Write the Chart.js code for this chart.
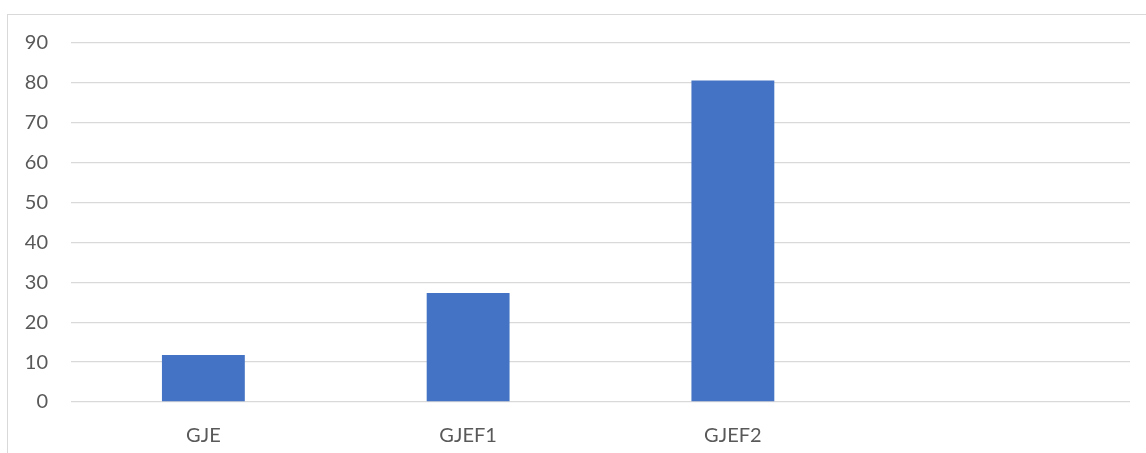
<!DOCTYPE html>
<html>
<head>
<meta charset="utf-8">
<script src="https://cdn.jsdelivr.net/npm/chart.js@4/dist/chart.umd.min.js"></script>
<style>
  html, body { margin: 0; padding: 0; background: #fff; }
  .wrap { position: relative; width: 1146px; height: 453px; }
  .frame { position: absolute; left: 7px; top: 14px; right: 0; bottom: 0;
           border-left: 1px solid #d9d9d9; border-top: 1px solid #d9d9d9; }
  canvas { position: absolute; left: 0; top: 0; }
</style>
</head>
<body>
<div class="wrap">
  <div class="frame"></div>
  <canvas id="chart" width="1146" height="453"></canvas>
</div>
<script>
// categories (last slot is empty in the original)
const categories = ['GJE', 'GJEF1', 'GJEF2', ''];
const values = [11.8, 27.3, 80.6, null];
const yTicks = [0, 10, 20, 30, 40, 50, 60, 70, 80, 90];

const barColor = '#4472C4';
const gridColor = '#d9d9d9';
const textColor = '#595959';
const fontFamily = 'Lato, "Open Sans", sans-serif';

const ctx = document.getElementById('chart').getContext('2d');
new Chart(ctx, {
    type: 'bar',
    data: {
        labels: categories,
        datasets: [{
            data: values,
            backgroundColor: barColor,
            borderWidth: 0,
            barPercentage: 0.626,
            categoryPercentage: 0.5
        }]
    },
    options: {
        responsive: false,
        animation: false,
        layout: { padding: { top: 43, right: 16, left: 0, bottom: 0 } },
        plugins: {
            legend: { display: false },
            tooltip: { enabled: false }
        },
        scales: {
            y: {
                min: 0,
                max: 90,
                afterBuildTicks: (scale) => {
                    scale.ticks = yTicks.map(v => ({ value: v }));
                },
                afterFit: (scale) => { scale.width = 71; },
                border: { display: false },
                grid: { color: gridColor, lineWidth: 1.3, drawTicks: false },
                ticks: {
                    padding: 23,
                    color: textColor,
                    font: { family: fontFamily, size: 20 }
                }
            },
            x: {
                afterFit: (scale) => { scale.height = 51; },
                border: { display: false },
                grid: { display: false },
                ticks: {
                    padding: 14,
                    color: textColor,
                    font: { family: fontFamily, size: 20 }
                }
            }
        }
    }
});
</script>
</body>
</html>
